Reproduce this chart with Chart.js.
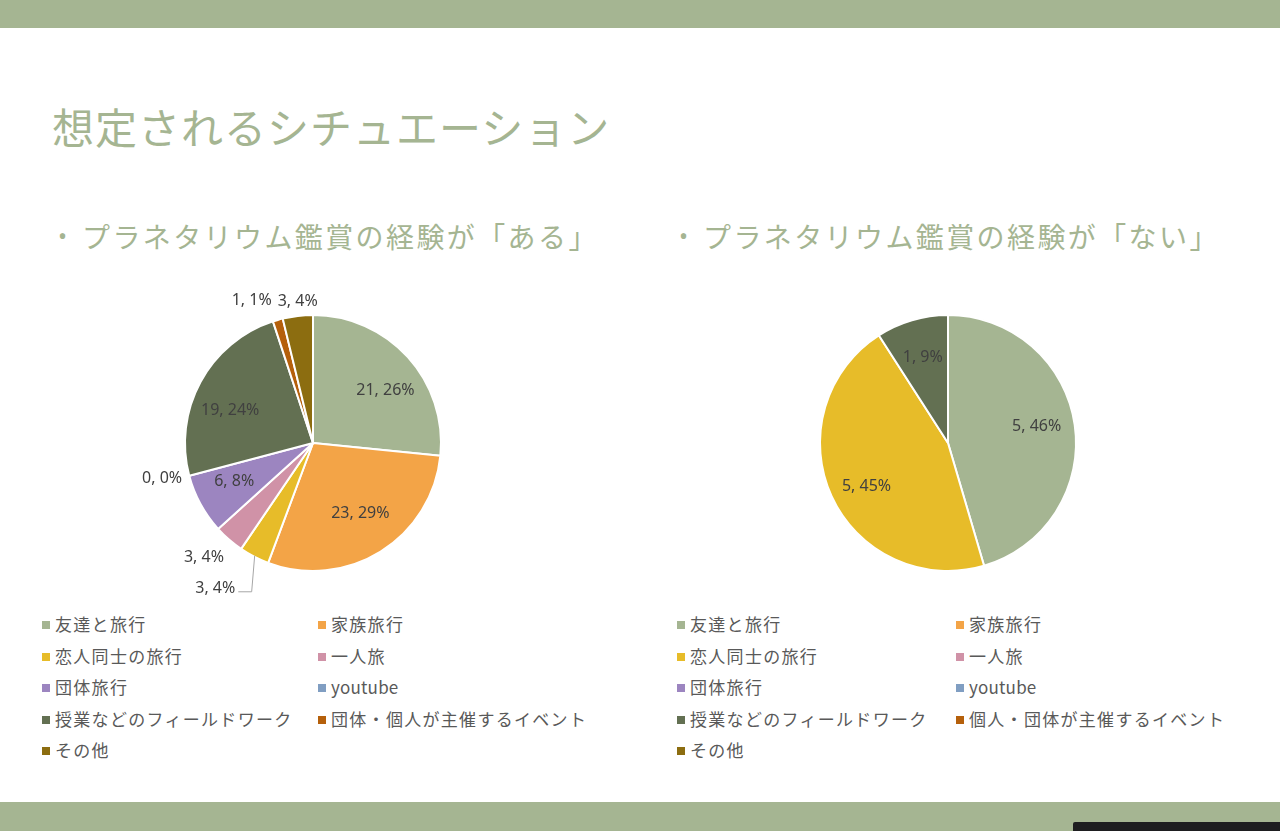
<!DOCTYPE html>
<html lang="ja">
<head>
<meta charset="utf-8">
<script src="https://cdn.jsdelivr.net/npm/chart.js@4.4.0/dist/chart.umd.min.js"></script>
<style>
  html, body { margin: 0; padding: 0; }
  body {
    width: 1280px; height: 831px; overflow: hidden; position: relative;
    background: #fff; font-family: "Noto Sans CJK JP", "Noto Sans", sans-serif;
  }
  .band { position: absolute; left: 0; width: 1280px; background: #a5b592; }
  #title {
    position: absolute; left: 52px; top: 98px; margin: 0;
    font-size: 42px; font-weight: 400; letter-spacing: 1px; color: #a5b592; line-height: 56px;
  }
  .sub {
    position: absolute; top: 216px; font-size: 28px; letter-spacing: 2.4px;
    color: #a5b592; line-height: 40px; white-space: nowrap;
  }
  .sub .dot { font-family: "Noto Sans", sans-serif; font-size: 24px; position: absolute; left: 0; top: 0; }
  .pie { position: absolute; top: 278px; width: 400px; height: 330px; }
  .legend { position: absolute; top: 612px; font-size: 17px; letter-spacing: 1.3px; color: #595959; }
  .legend div { position: absolute; white-space: nowrap; line-height: 24px; }
  .legend div.latin { letter-spacing: 0.2px; }
  .legend span.box { display: inline-block; width: 8px; height: 8px; margin-right: 5px; vertical-align: 2px; }
  #corner { position: absolute; left: 1073px; top: 822px; width: 207px; height: 9px; background: #1e1e20; border-top-left-radius: 2px; }
</style>
</head>
<body>
<div class="band" style="top:0;height:28px"></div>
<div class="band" style="top:802px;height:29px"></div>
<div id="corner"></div>

<h1 id="title">想定されるシチュエーション</h1>
<div class="sub" style="left:58px;padding-left:24px"><span class="dot">•</span>プラネタリウム鑑賞の経験が「ある」</div>
<div class="sub" style="left:679px;padding-left:24px"><span class="dot">•</span>プラネタリウム鑑賞の経験が「ない」</div>

<div class="pie" style="left:113px"><canvas id="pieAru"></canvas></div>
<div class="pie" style="left:748px"><canvas id="pieNai"></canvas></div>

<div class="legend" id="legendAru" style="left:42px"></div>
<div class="legend" id="legendNai" style="left:677px"></div>

<script>
// 経験が「ある」
const labelsAru = ["友達と旅行", "家族旅行", "恋人同士の旅行", "一人旅", "団体旅行", "youtube",
    "授業などのフィールドワーク", "団体・個人が主催するイベント", "その他"];
const valuesAru = [21, 23, 3, 3, 6, 0, 19, 1, 3];
const percentAru = [26, 29, 4, 4, 8, 0, 24, 1, 4]; // as printed on the slide

// 経験が「ない」
const labelsNai = ["友達と旅行", "家族旅行", "恋人同士の旅行", "一人旅", "団体旅行", "youtube",
    "授業などのフィールドワーク", "個人・団体が主催するイベント", "その他"];
const valuesNai = [5, 0, 5, 0, 0, 0, 1, 0, 0];
const percentNai = [46, 0, 45, 0, 0, 0, 9, 0, 0];

const colors = ["#a5b592", "#f3a447", "#e7bc29", "#d092a7", "#9c85c0", "#809ec2",
    "#637052", "#b5600b", "#8c6d10"];

// data labels: "value, pct%" inside big slices, outside for small ones
const sliceLabels = {
    id: "sliceLabels",
    afterDatasetsDraw(chart, args, opts) {
        const { ctx } = chart;
        const meta = chart.getDatasetMeta(0);
        const vals = chart.data.datasets[0].data;
        const total = vals.reduce((a, b) => a + b, 0);
        ctx.save();
        ctx.font = "16px 'Noto Sans', sans-serif";
        ctx.fillStyle = "#404040";
        ctx.textAlign = "center";
        ctx.textBaseline = "middle";
        meta.data.forEach((arc, i) => {
            if (!opts.show.includes(i)) return;
            const mid = (arc.startAngle + arc.endAngle) / 2;
            const r = arc.outerRadius;
            const outside = vals[i] / total < 0.05;
            const rad = outside ? r + 26 : r * 0.7;
            const nudge = (opts.nudge && opts.nudge[i]) || [0, 0];
            const x = arc.x + Math.cos(mid) * rad + nudge[0];
            const y = arc.y + Math.sin(mid) * rad + nudge[1];
            const text = vals[i] + ", " + opts.pct[i] + "%";
            if (opts.leader && opts.leader.includes(i)) {
                const w = ctx.measureText(text).width;
                const ex = arc.x + Math.cos(mid) * (r - 1);
                const ey = arc.y + Math.sin(mid) * (r - 1);
                ctx.strokeStyle = "#a6a6a6";
                ctx.lineWidth = 1;
                ctx.beginPath();
                ctx.moveTo(ex, ey);
                ctx.lineTo(ex - 3, y + 3);
                ctx.lineTo(x + w / 2 + 3, y + 3);
                ctx.stroke();
            }
            ctx.fillText(text, x, y);
        });
        ctx.restore();
    },
};

function makePie(id, labels, values, pct, labelOpts) {
    return new Chart(document.getElementById(id), {
        type: "pie",
        data: {
            labels: labels,
            datasets: [{
                data: values,
                backgroundColor: colors,
                borderColor: "#ffffff",
                borderWidth: 2,
            }],
        },
        options: {
            responsive: true,
            maintainAspectRatio: false,
            animation: false,
            radius: 128,
            layout: { padding: 0 },
            plugins: {
                legend: { display: false },
                tooltip: { enabled: false },
                sliceLabels: Object.assign({ pct: pct }, labelOpts),
            },
        },
        plugins: [sliceLabels],
    });
}

makePie("pieAru", labelsAru, valuesAru, percentAru, {
    show: [0, 1, 2, 3, 4, 5, 6, 7, 8],
    nudge: { 0: [6, 8], 1: [0, -6], 2: [-27, 9], 3: [-8, -2], 4: [0, -4], 5: [-2, -4], 6: [-4, 10], 7: [-19, 6], 8: [3, 11] },
    leader: [2],
});
makePie("pieNai", labelsNai, valuesNai, percentNai, {
    show: [0, 2, 6],
    nudge: { 0: [0, -4], 2: [0, 6] },
});

// two-column legend under each pie
function makeLegend(id, labels, colX) {
    const el = document.getElementById(id);
    labels.forEach((lab, i) => {
        const d = document.createElement("div");
        if (/^[\x00-\x7f]+$/.test(lab)) d.className = "latin";
        d.style.left = (i % 2 === 0 ? 0 : colX) + "px";
        d.style.top = Math.floor(i / 2) * 31.5 + "px";
        d.innerHTML = '<span class="box" style="background:' + colors[i] + '"></span>' + lab;
        el.appendChild(d);
    });
}
makeLegend("legendAru", labelsAru, 276);
makeLegend("legendNai", labelsNai, 279);
</script>
</body>
</html>
